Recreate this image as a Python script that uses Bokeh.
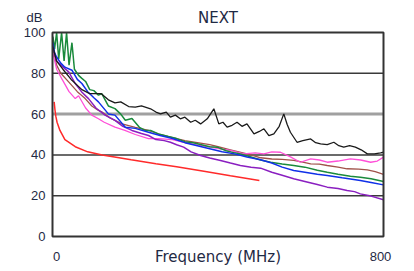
from bokeh.plotting import figure
from bokeh.models import Range1d, ColumnDataSource
from bokeh.core.properties import value
from bokeh.embed import file_html
from bokeh.resources import INLINE

# ---- data (frequency in MHz, NEXT in dB) ----
red_f = [4, 6, 8, 11, 18, 30, 55, 85, 120, 150, 190, 250, 300, 366, 430, 500]
red_db = [66, 62, 59, 56, 52, 47.5, 44, 41.5, 40, 39, 37.6, 35.7, 34.2, 32, 29.8, 27.5]

black_f = [1, 10, 25, 45, 71, 90, 118, 135, 151, 165, 184, 200, 215, 237, 250, 261, 275, 285, 297,
           309, 320, 334, 345, 358, 374, 390, 402, 412, 422, 434, 446, 458, 470, 487, 500, 511,
           523, 535, 548, 559, 567, 575, 591, 605, 624, 636, 648, 664, 680, 692, 704, 718, 732,
           746, 761, 778, 793, 800]
black_db = [93, 86, 82, 77, 72, 70, 70, 67, 65.5, 66, 63.7, 63.4, 64, 62.6, 61, 60.1, 61, 58.5, 59.5,
            57.7, 58.5, 56, 57, 55.2, 57.7, 62.6, 55.2, 56, 53.6, 54.5, 56, 54, 55.2, 50.3, 51.5, 52.8,
            49.5, 50.3, 54, 60.1, 55, 51.1, 46.2, 47, 47.8, 46, 45.4, 45, 46.2, 44.5, 43.8, 44.5, 43.8,
            42.5, 40.5, 40.5, 41, 41.3]

green_f = [1, 5, 10, 15, 22, 28, 34, 40, 47, 53, 63, 71, 80, 90, 100, 111, 119, 135, 151, 165, 176,
           192, 210, 224, 237, 256, 280, 300, 320, 340, 360, 380, 398, 420, 440, 454, 480, 503, 527,
           555, 583, 610, 640, 664, 690, 720, 744, 770, 800]
green_db = [98, 92, 100, 87, 100, 86, 100, 84, 95, 82, 79, 77.5, 76, 72, 71.5, 69.3, 70, 64, 62.7, 60,
            57, 57.8, 53.5, 52, 52, 50.3, 49, 48, 46.5, 46, 45, 44, 43.8, 42, 41, 40.5, 39, 37.5, 36.4,
            35.5, 34.8, 34, 32.5, 31.5, 30.5, 29.5, 29.1, 28.3, 27]

blue_f = [1, 5, 10, 20, 30, 47, 60, 71, 85, 100, 111, 135, 151, 176, 200, 232, 260, 290, 320, 350,
          380, 410, 440, 470, 503, 530, 555, 583, 610, 640, 664, 700, 744, 770, 800]
blue_db = [95, 90, 88, 85, 83, 81.5, 77, 75, 71, 68, 66, 60.1, 59.5, 53.6, 53, 51.1, 49.5, 48, 46,
           44.5, 43, 41.5, 40.5, 39, 37.6, 36, 34, 32.4, 31.5, 30.5, 29.9, 28.8, 27.5, 26.5, 25.3]

purple_f = [1, 10, 20, 39, 55, 70, 87, 105, 127, 151, 170, 192, 215, 232, 250, 270, 285, 300, 317,
            335, 358, 380, 406, 430, 454, 480, 503, 530, 555, 583, 610, 640, 664, 690, 712, 730,
            744, 770, 800]
purple_db = [93, 86, 84, 80.7, 75, 71, 67.6, 63, 59.5, 56.9, 54, 52, 50.5, 49.5, 47.5, 47, 46.2, 45,
             43.8, 41.5, 39.7, 38.5, 37.3, 36, 34.8, 34, 33.5, 31.5, 30, 28.3, 27, 25.5, 24.2, 23.5,
             22.5, 22, 20.9, 19.8, 18]

pink_f = [1, 10, 22, 40, 55, 63, 80, 95, 111, 125, 151, 175, 200, 232, 256, 290, 317, 345, 382, 405,
          430, 462, 490, 511, 530, 551, 575, 599, 624, 645, 664, 690, 720, 745, 769, 785, 800]
pink_db = [90, 82, 77.5, 71, 67.6, 69, 63, 59.5, 57.7, 56, 53.6, 52, 50, 48, 48, 47.5, 46.2, 45,
           43.8, 43, 42.2, 40.5, 41, 40.5, 41.5, 41.3, 39, 36.4, 38.1, 37.5, 36.4, 37, 38.1, 37.5,
           36.4, 37, 38.9]

brown_f = [1, 10, 20, 39, 60, 79, 95, 111, 119, 140, 168, 200, 232, 260, 290, 320, 350, 380, 400,
           430, 460, 480, 503, 530, 555, 583, 605, 624, 645, 664, 690, 712, 740, 761, 780, 800]
brown_db = [92, 84, 80, 75.8, 71, 67.6, 64, 61.8, 61.1, 58, 55.2, 53.5, 52, 50, 48.5, 47, 46, 45, 44,
            42.5, 41, 40, 38.6, 38, 37.8, 37.3, 36.5, 35.6, 35.5, 34.8, 34, 33.2, 33, 32.7, 31.8, 30.5]

x_ticks = [0, 800]
x_tick_labels = ["0", "800"]
y_ticks = [0, 20, 40, 60, 80, 100]
y_tick_labels = ["0", "20", "40", "60", "80", "100"]
grid_dark = [20, 40, 80]
grid_light = [60]
title_text = "NEXT"
x_label = "Frequency (MHz)"
y_label = "dB"

X_MIN, X_MAX = 0, 800
Y_MIN, Y_MAX = 0, 100

TEXT_COLOR = "#1f2a44"
FONT = "Liberation Sans"

# canvas geometry (pixels): plot box from x=52..383, y=32..236
W, H = 406, 268
BOX_L, BOX_R, BOX_T, BOX_B = 52, 383, 32, 236
sx = (BOX_R - BOX_L) / (X_MAX - X_MIN)
sy = (BOX_B - BOX_T) / (Y_MAX - Y_MIN)
xr = Range1d(X_MIN - BOX_L / sx, X_MIN + (W - BOX_L) / sx)
yr = Range1d(Y_MIN - (H - BOX_B) / sy, Y_MIN + BOX_B / sy)

p = figure(width=W, height=H, output_backend="svg", toolbar_location=None,
           x_range=xr, y_range=yr, x_axis_type=None, y_axis_type=None,
           min_border=0, min_border_left=0, min_border_right=0,
           min_border_top=0, min_border_bottom=0)
p.background_fill_color = "white"
p.border_fill_color = "white"
p.outline_line_color = None
p.grid.visible = False

# grid lines
p.segment(x0=[X_MIN] * len(grid_light), x1=[X_MAX] * len(grid_light), y0=grid_light, y1=grid_light,
          line_color="#a0a0a0", line_width=3)
p.segment(x0=[X_MIN] * len(grid_dark), x1=[X_MAX] * len(grid_dark), y0=grid_dark, y1=grid_dark,
          line_color="#3a3a3a", line_width=1.5)

series = [
    (red_f, red_db, "#ff2a2a", 1.5),
    (brown_f, brown_db, "#a0524a", 1.3),
    (pink_f, pink_db, "#ff4fd8", 1.3),
    (purple_f, purple_db, "#8a1fc0", 1.5),
    (green_f, green_db, "#1a8a3c", 1.5),
    (blue_f, blue_db, "#1030e8", 1.5),
    (black_f, black_db, "#1a1a1a", 1.3),
]
for fx, fy, col, lw in series:
    src = ColumnDataSource(dict(f=fx, db=fy))
    p.line("f", "db", source=src, line_color=col, line_width=lw)

# plot box border
p.quad(left=[X_MIN], right=[X_MAX], bottom=[Y_MIN], top=[Y_MAX], fill_color=None,
       line_color="#333333", line_width=2)

# tick labels
p.text(x=[X_MIN] * len(y_ticks), y=y_ticks, text=y_tick_labels, x_offset=-7,
       text_align="right", text_baseline="middle", text_font=value(FONT),
       text_font_size="13px", text_color=TEXT_COLOR)
p.text(x=x_ticks, y=[Y_MIN] * len(x_ticks), text=x_tick_labels, x_offset=[4, -3], y_offset=20,
       text_align="center", text_baseline="middle", text_font=value(FONT),
       text_font_size="13px", text_color=TEXT_COLOR)

# titles
p.text(x=[X_MIN], y=[Y_MAX], text=[y_label], x_offset=-18, y_offset=-15,
       text_align="center", text_baseline="middle", text_font=value(FONT),
       text_font_size="13px", text_color=TEXT_COLOR)
p.text(x=[(X_MIN + X_MAX) / 2], y=[Y_MAX], text=[title_text], y_offset=-15,
       text_align="center", text_baseline="middle", text_font=value("DejaVu Sans"),
       text_font_size="15px", text_color=TEXT_COLOR)
p.text(x=[(X_MIN + X_MAX) / 2], y=[Y_MIN], text=[x_label], y_offset=20,
       text_align="center", text_baseline="middle", text_font=value("DejaVu Sans"),
       text_font_size="15px", text_color=TEXT_COLOR)

open("out.html", "w").write(file_html(p, INLINE))
